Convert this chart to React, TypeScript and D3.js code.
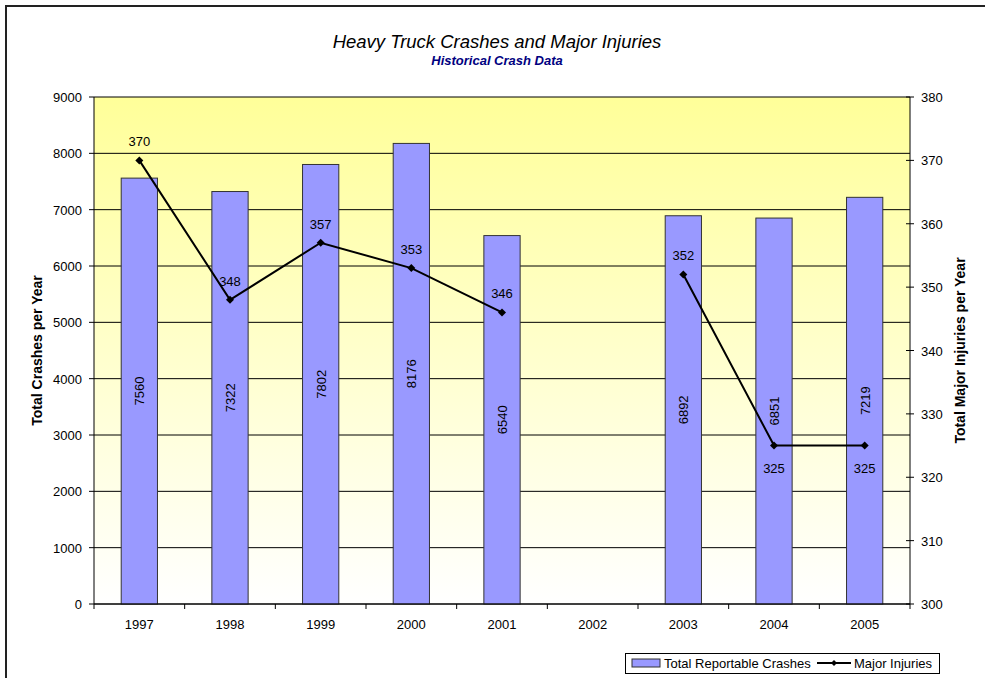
import React from 'react';
import * as d3 from 'd3';

const years = ['1997', '1998', '1999', '2000', '2001', '2002', '2003', '2004', '2005'];
const crashes: (number | null)[] = [7560, 7322, 7802, 8176, 6540, null, 6892, 6851, 7219];
const injuries: (number | null)[] = [370, 348, 357, 353, 346, null, 352, 325, 325];
// labels for the last two points sit below the marker
const injuryLabelBelow = [false, false, false, false, false, false, false, true, true];
const leftTicks = [0, 1000, 2000, 3000, 4000, 5000, 6000, 7000, 8000, 9000];
const rightTicks = [300, 310, 320, 330, 340, 350, 360, 370, 380];

const W = 985;
const H = 678;
const left = 94;
const right = 910;
const top = 97;
const bottom = 604;
const font = '"Liberation Sans", Arial, sans-serif';

export default function App() {
  const x = d3.scaleBand().domain(years).range([left, right]).paddingInner(0.6).paddingOuter(0.3);
  const band = d3.scaleBand().domain(years).range([left, right]);
  const y = d3.scaleLinear().domain([0, 9000]).range([bottom, top]);
  const y2 = d3.scaleLinear().domain([300, 380]).range([bottom, top]);

  const all = years.map((yr, i) => ({ yr, i, v: injuries[i] }));
  const pts = all.filter(d => d.v !== null) as { yr: string; i: number; v: number }[];
  const line = d3.line<{ yr: string; v: number | null }>()
    .defined(d => d.v !== null)
    .x(d => band(d.yr)! + band.bandwidth() / 2)
    .y(d => y2(d.v as number));

  return (
    <svg width={W} height={H} style={{ position: 'absolute', left: 0, top: 0 }} fontFamily={font}>
      <defs>
        <linearGradient id="bg" x1="0" y1="0" x2="0" y2="1">
          <stop offset="0" stopColor="#FFFF99" />
          <stop offset="1" stopColor="#FFFFFF" />
        </linearGradient>
      </defs>
      <rect x={0} y={0} width={W} height={H} fill="#fff" />
      <path d={`M6,${H} V6 H${W}`} fill="none" stroke="#222" strokeWidth={2} />

      <text x={497} y={48} textAnchor="middle" fontSize={18.5} fontStyle="italic">Heavy Truck Crashes and Major Injuries</text>
      <text x={497} y={65} textAnchor="middle" fontSize={13} fontStyle="italic" fontWeight="bold" fill="#000080">Historical Crash Data</text>

      <rect x={left} y={top} width={right - left} height={bottom - top} fill="url(#bg)" />
      {leftTicks.map(t => (
        <g key={t}>
          <line x1={left} x2={right} y1={y(t)} y2={y(t)} stroke="#000" strokeWidth={1} />
          <line x1={left - 5} x2={left} y1={y(t)} y2={y(t)} stroke="#000" />
          <text x={left - 12} y={y(t) + 5} textAnchor="end" fontSize={13}>{t}</text>
        </g>
      ))}
      {rightTicks.map(t => (
        <g key={t}>
          <line x1={right - 4} x2={right + 4} y1={y2(t)} y2={y2(t)} stroke="#000" />
          <text x={right + 11} y={y2(t) + 5} textAnchor="start" fontSize={13}>{t}</text>
        </g>
      ))}
      <line x1={left} x2={left} y1={top} y2={bottom} stroke="#000" />
      <line x1={right} x2={right} y1={top} y2={bottom} stroke="#000" />

      {years.map((yr, i) => {
        const v = crashes[i];
        if (v === null) return null;
        const bx = x(yr)!;
        const cx = bx + x.bandwidth() / 2;
        const cy = (y(v) + bottom) / 2;
        return (
          <g key={yr}>
            <rect x={bx} y={y(v)} width={x.bandwidth()} height={bottom - y(v)} fill="#9999FF" stroke="#333" strokeWidth={1} />
            <text transform={`translate(${cx + 5},${cy}) rotate(-90)`} textAnchor="middle" fontSize={13}>{v}</text>
          </g>
        );
      })}

      <line x1={left} x2={right} y1={bottom} y2={bottom} stroke="#000" />
      {d3.range(years.length + 1).map(i => {
        const tx = left + band.step() * i;
        return <line key={i} x1={tx} x2={tx} y1={bottom} y2={bottom + 5} stroke="#000" />;
      })}
      {years.map(yr => (
        <text key={yr} x={band(yr)! + band.bandwidth() / 2} y={629} textAnchor="middle" fontSize={13}>{yr}</text>
      ))}

      <path d={line(all) || ''} fill="none" stroke="#000" strokeWidth={2} />
      {pts.map(d => {
        const cx = band(d.yr)! + band.bandwidth() / 2;
        const cy = y2(d.v);
        return (
          <g key={d.yr}>
            <path d={`M${cx},${cy - 4} L${cx + 4},${cy} L${cx},${cy + 4} L${cx - 4},${cy} Z`} fill="#000" />
            <text x={cx} y={injuryLabelBelow[d.i] ? cy + 27 : cy - 14} textAnchor="middle" fontSize={13}>{d.v}</text>
          </g>
        );
      })}

      <text transform={`translate(42,${(top + bottom) / 2}) rotate(-90)`} textAnchor="middle" fontSize={14} fontWeight="bold">Total Crashes per Year</text>
      <text transform={`translate(965,${(top + bottom) / 2}) rotate(-90)`} textAnchor="middle" fontSize={14} fontWeight="bold">Total Major Injuries per Year</text>

      <g>
        <rect x={625.5} y={653.5} width={314} height={20} fill="#fff" stroke="#000" />
        <rect x={632} y={659} width={28} height={8} fill="#9999FF" stroke="#333" />
        <text x={664} y={668} fontSize={13}>Total Reportable Crashes</text>
        <line x1={817} x2={851} y1={663} y2={663} stroke="#000" strokeWidth={2} />
        <path d="M834,660 L837,663 L834,666 L831,663 Z" fill="#000" />
        <text x={854} y={668} fontSize={13}>Major Injuries</text>
      </g>
    </svg>
  );
}
